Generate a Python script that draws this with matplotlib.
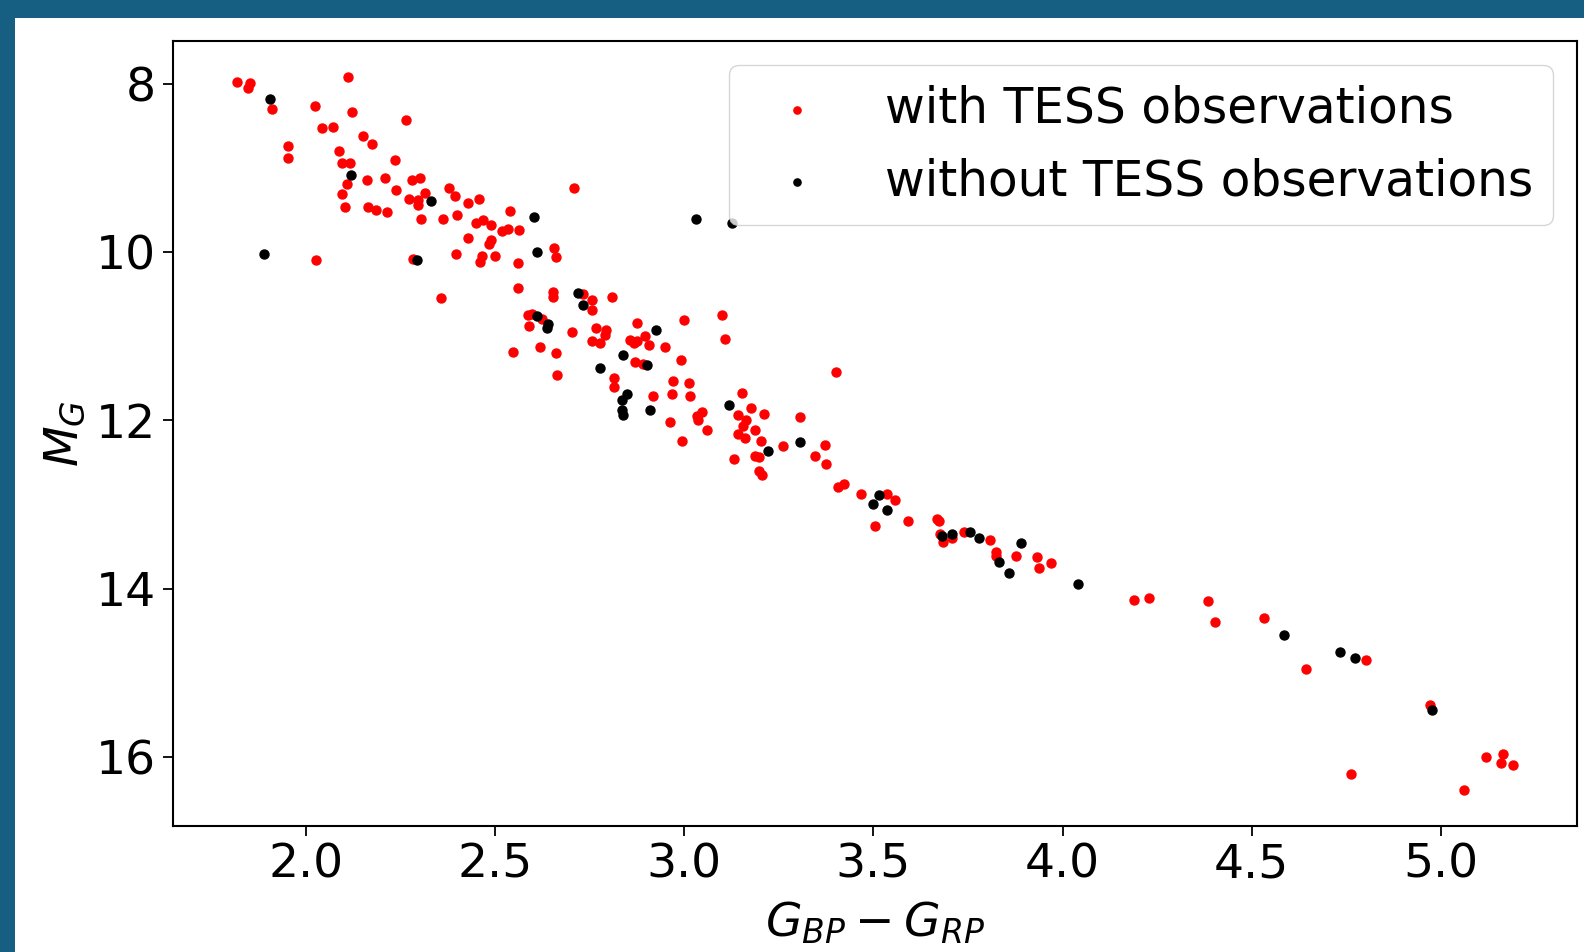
import matplotlib

matplotlib.use("Agg")
import matplotlib.pyplot as plt
from matplotlib.patches import Rectangle

# colour index and absolute G magnitude
with_tess_bp_rp = [
    1.817, 1.847, 1.853, 1.911, 2.111, 2.024, 2.121, 2.265, 2.043, 2.072,
    2.150, 2.175, 1.951, 1.952, 2.087, 2.096, 2.115, 2.235, 2.109, 2.094,
    2.103, 2.162, 2.208, 2.163, 2.186, 2.215, 2.239, 2.280, 2.302, 2.314,
    2.271, 2.297, 2.295, 2.304, 2.362, 2.379, 2.395, 2.398, 2.428, 2.458,
    2.448, 2.467, 2.489, 2.540, 2.518, 2.533, 2.563, 2.429, 2.489, 2.484,
    2.396, 2.465, 2.460, 2.500, 2.561, 2.709, 2.655, 2.661, 2.026, 2.282,
    2.561, 2.358, 2.652, 2.654, 2.731, 2.755, 2.810, 2.757, 2.586, 2.597,
    2.625, 2.590, 2.703, 2.766, 2.793, 2.789, 2.755, 2.776, 2.875, 2.856,
    2.876, 2.896, 2.906, 2.868, 2.948, 2.998, 3.100, 3.107, 2.548, 2.619,
    2.661, 2.663, 2.870, 2.890, 2.990, 2.815, 2.815, 2.917, 2.969, 3.011,
    2.967, 3.015, 3.048, 3.034, 3.035, 2.961, 3.060, 2.993, 3.153, 3.175,
    3.143, 3.162, 3.211, 3.154, 3.186, 3.143, 3.161, 3.203, 3.188, 3.198,
    3.130, 3.260, 3.307, 3.371, 3.345, 3.400, 3.198, 3.204, 3.375, 3.406,
    3.421, 3.468, 3.535, 3.557, 3.503, 3.590, 3.667, 3.674, 3.676, 3.683,
    3.707, 3.740, 3.807, 3.825, 3.823, 3.876, 3.933, 3.938, 3.968, 4.188,
    4.228, 4.383, 4.402, 4.532, 4.644, 4.801, 4.971, 4.762, 5.062, 5.118,
    5.164, 5.159, 5.191,
]
with_tess_mg = [
    7.97, 8.05, 7.99, 8.30, 7.91, 8.26, 8.33, 8.42, 8.52, 8.51,
    8.62, 8.71, 8.74, 8.88, 8.79, 8.94, 8.94, 8.90, 9.19, 9.30,
    9.46, 9.14, 9.11, 9.46, 9.50, 9.52, 9.26, 9.14, 9.12, 9.29,
    9.37, 9.38, 9.44, 9.60, 9.60, 9.24, 9.33, 9.56, 9.41, 9.37,
    9.65, 9.62, 9.68, 9.51, 9.74, 9.72, 9.73, 9.83, 9.85, 9.90,
    10.02, 10.04, 10.12, 10.04, 10.13, 9.23, 9.95, 10.06, 10.09, 10.08,
    10.42, 10.54, 10.47, 10.53, 10.49, 10.57, 10.53, 10.69, 10.74, 10.73,
    10.79, 10.88, 10.95, 10.90, 10.92, 10.98, 11.05, 11.08, 10.84, 11.04,
    11.06, 11.00, 11.10, 11.08, 11.13, 10.81, 10.74, 11.03, 11.19, 11.12,
    11.20, 11.46, 11.31, 11.33, 11.28, 11.49, 11.60, 11.71, 11.53, 11.56,
    11.69, 11.71, 11.90, 11.95, 12.00, 12.02, 12.11, 12.25, 11.67, 11.85,
    11.94, 11.99, 11.92, 12.07, 12.11, 12.16, 12.21, 12.25, 12.42, 12.44,
    12.46, 12.30, 11.96, 12.29, 12.42, 11.42, 12.60, 12.65, 12.52, 12.79,
    12.75, 12.87, 12.87, 12.95, 13.25, 13.20, 13.17, 13.20, 13.35, 13.44,
    13.40, 13.33, 13.42, 13.56, 13.61, 13.61, 13.62, 13.76, 13.70, 14.13,
    14.11, 14.15, 14.40, 14.35, 14.96, 14.85, 15.39, 16.20, 16.40, 16.00,
    15.97, 16.08, 16.10,
]

without_tess_bp_rp = [
    1.905, 2.118, 2.331, 2.602, 1.889, 2.294, 2.611, 2.720, 3.031, 3.127,
    2.732, 2.610, 2.640, 2.636, 2.924, 2.838, 2.778, 2.902, 2.848, 2.834,
    2.834, 2.837, 2.910, 3.117, 3.221, 3.305, 3.515, 3.499, 3.536, 3.681,
    3.708, 3.754, 3.779, 3.831, 3.890, 3.857, 4.041, 4.584, 4.733, 4.772,
    4.976,
]
without_tess_mg = [
    8.18, 9.08, 9.39, 9.58, 10.02, 10.09, 9.99, 10.48, 9.60, 9.65,
    10.63, 10.76, 10.85, 10.90, 10.92, 11.22, 11.38, 11.34, 11.69, 11.76,
    11.88, 11.93, 11.88, 11.82, 12.36, 12.26, 12.89, 12.99, 13.06, 13.38,
    13.35, 13.33, 13.40, 13.68, 13.46, 13.81, 13.95, 14.55, 14.75, 14.82,
    15.45,
]

FRAME_BLUE = "#175e83"
FS = 34


def plot_cmd(out_png="out.png"):
    fig = plt.figure(figsize=(15.84, 9.52), dpi=100, facecolor=FRAME_BLUE)
    # slide frame: blue strip on top and left only, white page behind the axes
    fig.patches.append(
        Rectangle(
            (15 / 1584, 0), 1 - 15 / 1584, 1 - 18 / 952,
            transform=fig.transFigure, facecolor="white", edgecolor="none", zorder=-10,
        )
    )
    ax = fig.add_axes([173 / 1584, 1 - 826 / 952, (1577 - 173) / 1584, (826 - 41) / 952])

    ax.scatter(with_tess_bp_rp, with_tess_mg, s=42, color="red", label="with TESS observations")
    ax.scatter(without_tess_bp_rp, without_tess_mg, s=42, color="black",
               label="without TESS observations")
    ax.invert_yaxis()

    ax.set_xticks([2.0, 2.5, 3.0, 3.5, 4.0, 4.5, 5.0])
    ax.set_yticks([8, 10, 12, 14, 16])
    ax.tick_params(labelsize=FS, length=7, width=1.3, pad=5)
    for sp in ax.spines.values():
        sp.set_linewidth(1.5)

    ax.set_xlabel(r"$G_{BP} - G_{RP}$", fontsize=FS, labelpad=9)
    ax.set_ylabel(r"$M_G$", fontsize=FS, labelpad=6)
    ax.legend(loc="upper right", fontsize=35, markerscale=0.8, borderaxespad=0.5)

    fig.savefig(out_png, dpi=100, facecolor=fig.get_facecolor())


if __name__ == "__main__":
    plot_cmd()
